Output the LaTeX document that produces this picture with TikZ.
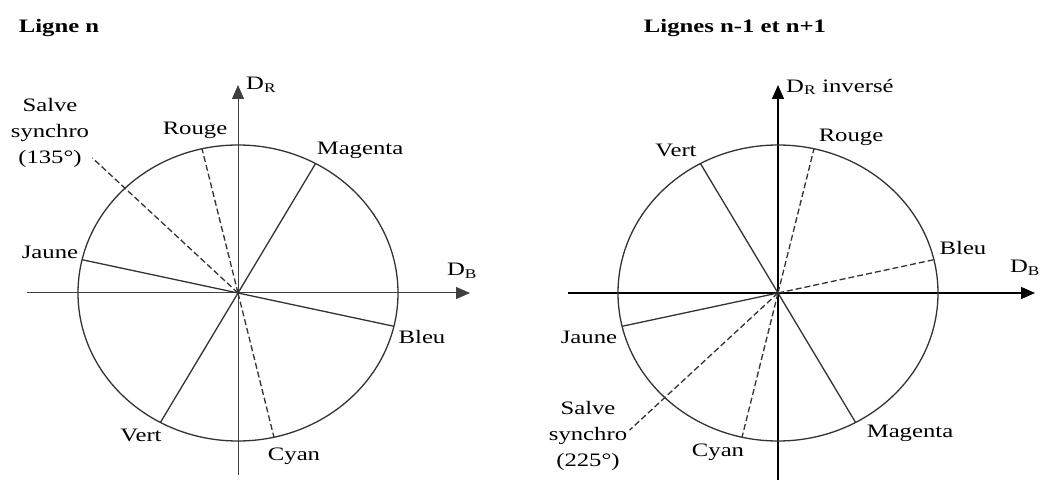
\documentclass[tikz,border=0pt]{standalone}
\usepackage{fontspec}
\setmainfont{Liberation Serif}[FakeStretch=1.3]
\usetikzlibrary{arrows.meta, calc}
\tikzset{
  ray/.style={line width=1.3pt, black!80},
  dray/.style={ray, dash pattern=on 6pt off 3pt},
  axis/.style={-{Triangle[length=14pt, width=12pt]}, line width=1pt},
  lbl/.style={font=\fontsize{19}{26}\selectfont, inner sep=1pt, align=center},
  ttl/.style={font=\fontsize{19}{26}\selectfont\bfseries, inner sep=1pt},
}

\begin{document}
\begin{tikzpicture}[x=1pt, y=1pt]
  \useasboundingbox (0,0) rectangle (1041,482);
  % Ligne n
  \node[ttl] (titleL) at (59,454) {Ligne n};
  \coordinate (oL) at (238,189);
  \coordinate (hL0) at (27,189);
  \coordinate (hL1) at (470,189);
  \coordinate (vL0) at (238,7);
  \coordinate (vL1) at (238,397);
  \draw[axis, black!75] (hL0) -- (hL1);
  \draw[axis, black!75] (vL0) -- (vL1);
  \draw[ray] (oL) ellipse [x radius=160, y radius=148];
  \foreach \ang/\nm/\sty in {103/rougeL/dray, 61/magentaL/ray, 167/jauneL/ray,
      347/bleuL/ray, 283/cyanL/dray, 241/vertL/ray} {
    \coordinate (\nm) at ($(oL)+(\ang:160 and 148)$);
    \draw[\sty] (oL) -- (\nm);
  }
  \coordinate (salveL) at ($(oL)+(135:206 and 191)$);
  \draw[dray] (oL) -- (salveL);
  \node[lbl, anchor=west] (drL) at (245,397) {D\textsubscript{R}};
  \node[lbl] (dbL) at (462,211) {D\textsubscript{B}};
  \node[lbl] (salveLtxt) at (50,349) {Salve\\synchro\\(135°)};
  \node[lbl] (rougeLtxt) at (195,352) {Rouge};
  \node[lbl] (magentaLtxt) at (360,332) {Magenta};
  \node[lbl] (jauneLtxt) at (50,230) {Jaune};
  \node[lbl] (bleuLtxt) at (422,145) {Bleu};
  \node[lbl] (cyanLtxt) at (294,26) {Cyan};
  \node[lbl] (vertLtxt) at (141,47) {Vert};
  % Lignes n-1 et n+1
  \node[ttl] (titleR) at (735,454) {Lignes n-1 et n+1};
  \coordinate (oR) at (778,189);
  \coordinate (hR0) at (568,189);
  \coordinate (hR1) at (1035,189);
  \coordinate (vR0) at (778,2);
  \coordinate (vR1) at (778,397);
  \draw[axis, line width=1.5pt] (hR0) -- (hR1);
  \draw[axis, line width=1.5pt] (vR0) -- (vR1);
  \draw[ray] (oR) ellipse [x radius=160, y radius=148];
  \foreach \ang/\nm/\sty in {77/rougeR/dray, 119/vertR/ray, 13/bleuR/dray,
      193/jauneR/ray, 257/cyanR/dray, 299/magentaR/ray} {
    \coordinate (\nm) at ($(oR)+(\ang:160 and 148)$);
    \draw[\sty] (oR) -- (\nm);
  }
  \coordinate (salveR) at ($(oR)+(225:210 and 194)$);
  \draw[dray] (oR) -- (salveR);
  \node[lbl, anchor=west] (drR) at (785,395) {D\textsubscript{R} inversé};
  \node[lbl] (dbR) at (1025,214) {D\textsubscript{B}};
  \node[lbl] (vertRtxt) at (676,332) {Vert};
  \node[lbl] (rougeRtxt) at (851,345) {Rouge};
  \node[lbl] (bleuRtxt) at (963,234) {Bleu};
  \node[lbl] (jauneRtxt) at (589,145) {Jaune};
  \node[lbl] (salveRtxt) at (588,46) {Salve\\synchro\\(225°)};
  \node[lbl] (cyanRtxt) at (718,30) {Cyan};
  \node[lbl] (magentaRtxt) at (910,49) {Magenta};
\end{tikzpicture}
\end{document}
